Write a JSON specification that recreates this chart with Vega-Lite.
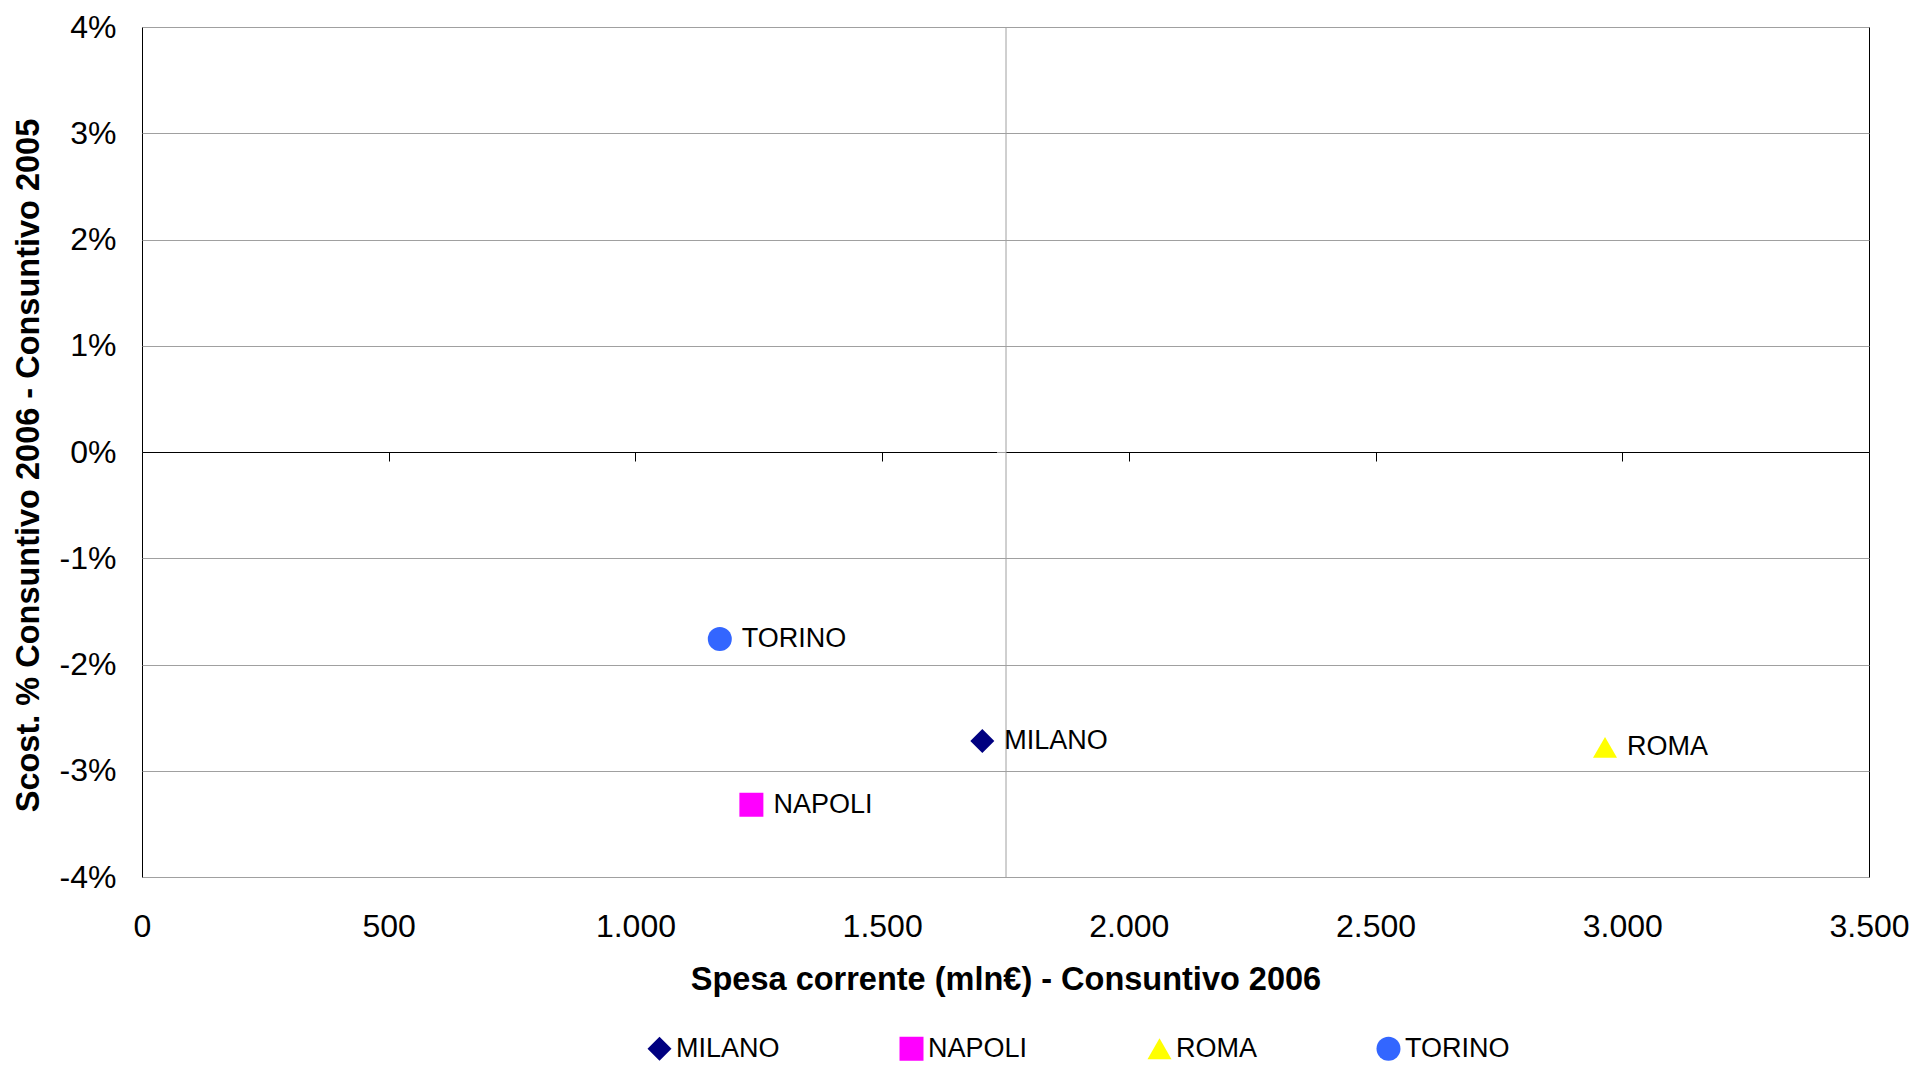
{
  "$schema": "https://vega.github.io/schema/vega-lite/v6.json",
  "width": 1727,
  "height": 850,
  "autosize": {"type": "none"},
  "padding": {"left": 142, "top": 27, "right": 46, "bottom": 188},
  "background": "white",
  "data": {
    "values": [
      {"citta": "MILANO", "spesa": 1703, "scost": -0.0272},
      {"citta": "NAPOLI", "spesa": 1235, "scost": -0.0332},
      {"citta": "ROMA", "spesa": 2965, "scost": -0.0278},
      {"citta": "TORINO", "spesa": 1171, "scost": -0.0176}
    ]
  },
  "layer": [
    {
      "mark": {"type": "point", "filled": true, "opacity": 1},
      "encoding": {
        "x": {
          "field": "spesa", "type": "quantitative",
          "scale": {"domain": [0, 3500], "nice": false, "zero": false},
          "axis": {
            "orient": "bottom",
            "values": [0, 500, 1000, 1500, 2000, 2500, 3000, 3500],
            "format": ",d",
            "title": "Spesa corrente (mln€) - Consuntivo 2006",
            "grid": false, "domain": false, "ticks": false,
            "labelPadding": 34, "titlePadding": 21,
            "labelFontSize": 32, "titleFontSize": 32.5, "titleFontWeight": "bold",
            "labelColor": "black", "titleColor": "black",
            "labelFlush": false, "labelOverlap": false
          }
        },
        "y": {
          "field": "scost", "type": "quantitative",
          "scale": {"domain": [-0.04, 0.04], "nice": false, "zero": false},
          "axis": {
            "orient": "left",
            "values": [-0.04, -0.03, -0.02, -0.01, 0, 0.01, 0.02, 0.03, 0.04],
            "format": ".0%",
            "title": "Scost. % Consuntivo 2006 - Consuntivo 2005",
            "grid": true, "gridColor": "#a0a0a0", "gridWidth": 1,
            "domain": false, "ticks": false,
            "labelPadding": 26, "titlePadding": 14, "titleY": 438,
            "labelFontSize": 32, "titleFontSize": 32.5, "titleFontWeight": "bold",
            "labelColor": "black", "titleColor": "black",
            "labelFlush": false, "labelOverlap": false
          }
        },
        "color": {
          "field": "citta", "type": "nominal",
          "scale": {"domain": ["MILANO", "NAPOLI", "ROMA", "TORINO"], "range": ["#000080", "#FF00FF", "#FFFF00", "#3366FF"]},
          "legend": {
            "title": null, "orient": "none", "direction": "horizontal",
            "legendX": 504, "legendY": 1008, "gridAlign": "each",
            "columnPadding": 118, "labelFontSize": 27, "labelColor": "black",
            "symbolSize": 196, "labelOffset": 3, "padding": 0
          }
        },
        "shape": {
          "field": "citta", "type": "nominal",
          "scale": {"domain": ["MILANO", "NAPOLI", "ROMA", "TORINO"], "range": ["diamond", "square", "triangle-up", "circle"]}
        },
        "size": {
          "field": "citta", "type": "nominal",
          "scale": {"domain": ["MILANO", "NAPOLI", "ROMA", "TORINO"], "range": [576, 576, 576, 484]},
          "legend": null
        }
      }
    },
    {
      "mark": {"type": "text", "align": "left", "baseline": "middle", "dx": 22, "fontSize": 27, "color": "black"},
      "encoding": {
        "x": {
          "field": "spesa", "type": "quantitative",
          "axis": {
            "orient": "bottom", "offset": -425,
            "values": [0, 500, 1000, 1500, 2000, 2500, 3000, 3500],
            "labels": false, "title": null, "grid": false,
            "domain": true, "domainColor": "black", "domainWidth": 1,
            "ticks": true, "tickColor": "black", "tickSize": 9, "tickWidth": 1
          }
        },
        "y": {
          "field": "scost", "type": "quantitative",
          "axis": {
            "orient": "left", "offset": -863.5,
            "values": [-0.04, -0.03, -0.02, -0.01, 0, 0.01, 0.02, 0.03, 0.04],
            "labels": false, "title": null, "grid": false,
            "domain": true, "domainColor": "#a0a0a0", "domainWidth": 1,
            "ticks": true, "tickColor": "#a0a0a0", "tickSize": 9, "tickWidth": 1
          }
        },
        "text": {"field": "citta", "type": "nominal"}
      }
    }
  ],
  "resolve": {"axis": {"x": "independent", "y": "independent"}},
  "config": {
    "font": "Liberation Sans",
    "view": {"stroke": "black", "strokeWidth": 1},
    "locale": {
      "number": {"decimal": ",", "thousands": ".", "grouping": [3], "currency": ["€", ""], "minus": "-", "percent": "%"}
    }
  }
}
